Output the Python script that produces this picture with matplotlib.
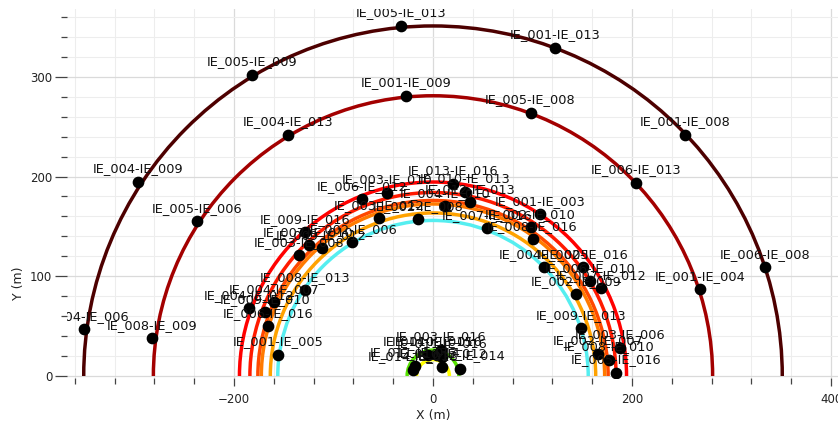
import numpy as np
import matplotlib
matplotlib.use("Agg")
import matplotlib.pyplot as plt
from matplotlib.patches import Arc
from matplotlib.ticker import MultipleLocator

# baseline lengths (semicircle radii, m) and their colours
radii = [351, 281, 194.5, 184, 176, 172.5, 163.5, 156, 26, 16.5]
arc_colors = ['#4d0000', '#a30000', '#ff0000', '#ff1a00', '#ff4800',
              '#ff7a00', '#ffa200', '#55eef0', '#55e000', '#ffff00']

# baseline points (x, y in m)
labels = [
    # outer ring
    "IE_005-IE_013", "IE_001-IE_013", "IE_005-IE_009", "IE_001-IE_008",
    "IE_004-IE_009", "IE_006-IE_008", "IE_004-IE_006",
    # second ring
    "IE_001-IE_009", "IE_005-IE_008", "IE_004-IE_013", "IE_006-IE_013",
    "IE_005-IE_006", "IE_001-IE_004", "IE_008-IE_009",
    # middle cluster
    "IE_013-IE_016", "IE_003-IE_010", "IE_006-IE_012", "IE_010-IE_013",
    "IE_012-IE_013", "IE_004-IE_010", "IE_003-IE_012", "IE_002-IE_008",
    "IE_007-IE_016", "IE_001-IE_003", "IE_002-IE_010", "IE_008-IE_016",
    "IE_009-IE_016", "IE_007-IE_010", "IE_003-IE_008", "IE_009-IE_012",
    "IE_002-IE_006", "IE_004-IE_005", "IE_002-IE_016", "IE_006-IE_010",
    "IE_007-IE_012", "IE_002-IE_009", "IE_009-IE_013", "IE_003-IE_006",
    "IE_002-IE_007", "IE_008-IE_010", "IE_005-IE_016", "IE_008-IE_013",
    "IE_004-IE_007", "IE_004-IE_012", "IE_009-IE_010", "IE_006-IE_016",
    "IE_001-IE_005",
    # inner cluster
    "IE_003-IE_016", "IE_010-IE_016", "IE_014-IE_015", "IE_011-IE_016",
    "IE_012-IE_014", "IE_011-IE_014", "IE_014-IE_016", "IE_010-IE_012",
]
xs = [
    -32, 123, -182, 253, -296, 334, -351,
    -27, 98, -146, 204, -237, 268, -282,
    20, -46, -71, 32, 37, 12, -54, -15, 54, 108, 98, 100,
    -129, -125, -135, -112, -81, 112, 151, 158, 169, 144, 149, 188,
    166, 177, 184, -129, -160, -185, -169, -166, -156,
    8, 4, -5, 9, 27, -18, -20, 9,
]
ys = [
    351, 329, 302, 242, 195, 109, 47,
    281, 264, 242, 194, 155, 87, 38,
    193, 184, 177, 185, 174, 170, 158, 157, 148, 162, 149, 137,
    144, 131, 121, 128, 134, 109, 109, 95, 88, 82, 48, 28,
    22, 16, 3, 86, 74, 68, 64, 50, 21,
    26, 21, 21, 19, 7, 10, 6, 9,
]

fig = plt.figure(figsize=(8.38, 4.26), dpi=100)
ax = fig.add_axes([67 / 838, 1 - 378 / 426, 771 / 838, 369 / 426])

for r, c in zip(radii, arc_colors):
    ax.add_patch(Arc((0, 0), 2 * r, 2 * r, theta1=0, theta2=180,
                     color=c, lw=2.5, zorder=2))

ax.scatter(xs, ys, s=55, color='black', zorder=3)

for lab, x, y in zip(labels, xs, ys):
    t = ax.annotate(lab, (x, y), xytext=(0, 9.4), textcoords='offset points',
                    ha='center', va='center', fontsize=9.3, color='#111111',
                    zorder=4)
    t.set_clip_box(ax.bbox)
    t.set_clip_on(True)

ax.set_xlim(-367.8, 407)
ax.set_ylim(-2, 368)

ax.xaxis.set_major_locator(MultipleLocator(200))
ax.xaxis.set_minor_locator(MultipleLocator(40))
ax.yaxis.set_major_locator(MultipleLocator(100))
ax.yaxis.set_minor_locator(MultipleLocator(20))

ax.grid(which='minor', color='#ededed', lw=0.8, zorder=0)
ax.grid(which='major', color='#dadada', lw=0.9, zorder=0)
ax.set_axisbelow(True)

for s in ax.spines.values():
    s.set_visible(False)

ax.tick_params(axis='y', which='major', length=9, width=0.9, color='#444444',
               labelsize=8.5, labelcolor='#222222', pad=1.5)
ax.tick_params(axis='y', which='minor', length=4.5, width=0.9, color='#444444')
ax.tick_params(axis='x', which='major', length=5.5, width=0.9, color='#444444',
               labelsize=8.5, labelcolor='#222222', pad=5)
ax.tick_params(axis='x', which='minor', length=4, width=0.9, color='#444444')

ax.set_xlabel('X (m)', fontsize=9, color='#222222')
ax.set_ylabel('Y (m)', fontsize=9, color='#222222')
ax.xaxis.set_label_coords(0.475, -0.085)
ax.yaxis.set_label_coords(-0.055, 0.258)

fig.savefig('out.png', dpi=100)
